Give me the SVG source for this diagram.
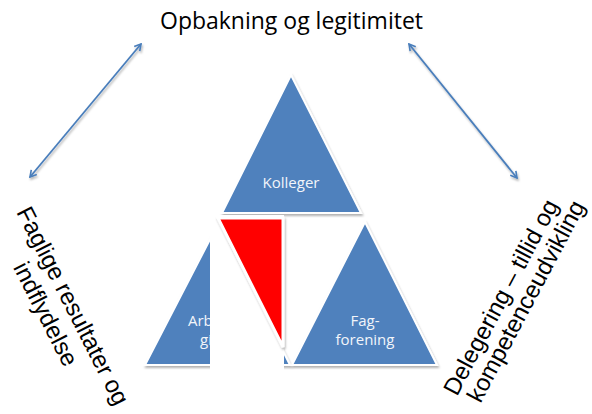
<svg xmlns="http://www.w3.org/2000/svg" width="592" height="414" viewBox="0 0 592 414">
<defs>
<filter id="sh" x="-20%" y="-20%" width="140%" height="140%">
<feDropShadow dx="1" dy="2" stdDeviation="1.2" flood-color="#000" flood-opacity="0.3"/>
</filter>
<marker id="ah" viewBox="0 0 10 10" refX="8.5" refY="5" markerWidth="9" markerHeight="9" markerUnits="userSpaceOnUse" orient="auto-start-reverse">
<path d="M1.5,1 L8.5,5 L1.5,9" fill="none" stroke="#4a7ebb" stroke-width="1.8" stroke-linejoin="miter"/>
</marker>
<style>
.tri{fill:#4f81bd;stroke:#fff;stroke-width:2;filter:url(#sh)}
.tt{font-family:"Open Sans","DejaVu Sans",sans-serif;font-size:15px;fill:#f2f5fa;text-anchor:middle}
.side{font-family:"Liberation Sans",Arial,sans-serif;font-size:24px;fill:#000;text-anchor:middle}
.arr{stroke:#4a7ebb;stroke-width:1.8;fill:none;marker-start:url(#ah);marker-end:url(#ah);filter:url(#sh)}
</style>
</defs>
<rect width="592" height="414" fill="#fff"/>
<g id="title">
<text x="160" y="29" font-family="'Open Sans','DejaVu Sans',sans-serif" font-size="23" fill="#000" textLength="263">Opbakning og legitimitet</text>
</g>
<g id="connectors">
<line class="arr" x1="30" y1="177" x2="141" y2="44"/>
<line class="arr" x1="409" y1="44" x2="517" y2="178"/>
<line class="arr" x1="168" y1="398" x2="408" y2="398"/>
</g>
<g id="kolleger">
<polygon class="tri" points="291,75 361,213 222,213"/>
<text class="tt" x="291" y="188">Kolleger</text>
</g>
<g id="arbejdsgiver">
<polygon class="tri" points="219,222 290,365 145,365"/>
<text class="tt" x="188" y="326" style="text-anchor:start">Arb</text>
<text class="tt" x="200" y="345" style="text-anchor:start">gi</text>
</g>
<g id="cover">
<rect x="210" y="215" width="74" height="158" fill="#fff"/>
</g>
<g id="red">
<polygon points="218,218 283,218 283,347" fill="#ff0000" stroke="#fff" stroke-width="3" filter="url(#sh)"/>
</g>
<g id="fagforening">
<polygon class="tri" points="365,222 437,365 292,365"/>
<text class="tt" x="365" y="326">Fag-</text>
<text class="tt" x="365" y="345">forening</text>
</g>
<g id="left-label">
<text class="side" transform="translate(65.7,309.5) rotate(63)">Faglige resultater og</text>
<text class="side" transform="translate(38.5,317.7) rotate(63)">indflydelse</text>
</g>
<g id="right-label">
<text class="side" transform="translate(508,301) rotate(-62)">Delegering – tillid og</text>
<text class="side" transform="translate(533,305) rotate(-62)">kompetenceudvikling</text>
</g>
</svg>
